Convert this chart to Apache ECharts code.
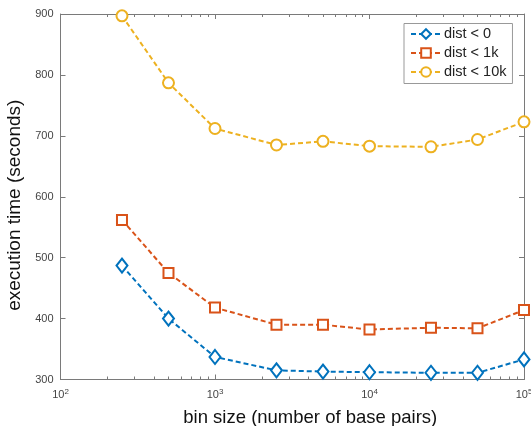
<!DOCTYPE html>
<html>
<head>
<meta charset="utf-8">
<script src="https://cdn.jsdelivr.net/npm/echarts@6/dist/echarts.min.js"></script>
<style>
  html, body { margin: 0; padding: 0; background: #fff; }
  #chart { width: 531px; height: 426px; }
</style>
</head>
<body>
<div id="chart"></div>
<script>
// Bin sizes (base pairs) and execution times (seconds) per distance threshold
const binSizes = [250, 500, 1000, 2500, 5000, 10000, 25000, 50000, 100000];
const dist0   = [487, 400, 337, 315, 313, 312, 311, 311, 333];
const dist1k  = [562, 475, 418, 390, 390, 382, 385, 384, 414];
const dist10k = [897, 787, 712, 685, 691, 683, 682, 694, 723];
const seriesNames = ['dist < 0', 'dist < 1k', 'dist < 10k'];
const yTicks = [300, 400, 500, 600, 700, 800, 900];
const xMinorTicks = [200, 300, 400, 500, 600, 700, 800, 900,
  2000, 3000, 4000, 5000, 6000, 7000, 8000, 9000,
  20000, 30000, 40000, 50000, 60000, 70000, 80000, 90000];

const FONT = "'Liberation Sans', Arial, Helvetica, sans-serif";
const AXIS_COLOR = '#7a7a7a';
const LABEL_COLOR = '#444';
const colors = ['#0072BD', '#D95319', '#EDB120'];
const symbols = ['emptyDiamond', 'emptyRect', 'emptyCircle'];
const symbolSizes = [[11, 14], 10, 11];

const chart = echarts.init(document.getElementById('chart'), null, { renderer: 'canvas' });

function pairs(vals) { return binSizes.map((b, i) => [b, vals[i]]); }

const seriesData = [dist0, dist1k, dist10k];

const xCommon = {
  type: 'log', logBase: 10, min: 100, max: 100000,
  axisLine: { show: true, lineStyle: { color: AXIS_COLOR, width: 1 } },
  axisTick: { show: true, inside: true, length: 5, lineStyle: { color: AXIS_COLOR } },
  splitLine: { show: false }
};
const yCommon = {
  type: 'value', min: yTicks[0], max: yTicks[yTicks.length - 1], interval: 100,
  axisLine: { show: true, lineStyle: { color: AXIS_COLOR, width: 1 } },
  axisTick: { show: true, inside: true, length: 5, lineStyle: { color: AXIS_COLOR } },
  splitLine: { show: false }
};

const option = {
  backgroundColor: '#fff',
  animation: false,
  textStyle: { fontFamily: FONT },
  grid: { left: 60.5, right: 7, top: 14, bottom: 46.5, containLabel: false, outerBoundsMode: 'none' },
  legend: {
    orient: 'vertical',
    left: 404, top: 23.5,
    padding: [3, 6, 4, 6],
    itemWidth: 30, itemHeight: 12, itemGap: 4,
    backgroundColor: '#fff',
    borderColor: '#999', borderWidth: 1,
    textStyle: { fontFamily: FONT, fontSize: 14.5, color: '#222', padding: [0, 0, 0, -2] },
    data: seriesNames
  },
  xAxis: [
    Object.assign({}, xCommon, {
      position: 'bottom',
      name: 'bin size (number of base pairs)',
      nameLocation: 'middle', nameGap: 28.5,
      nameTextStyle: { fontFamily: FONT, fontSize: 18.5, color: '#111', padding: [0, 0, 0, 36] },
      axisLabel: {
        show: true, margin: 8, color: LABEL_COLOR, fontSize: 11,
        formatter: v => '10{sup|' + Math.round(Math.log10(v)) + '}',
        rich: { sup: { fontSize: 8, color: LABEL_COLOR, padding: [0, 0, 7, 0] } }
      }
    }),
    Object.assign({}, xCommon, { position: 'top', axisLabel: { show: false } })
  ],
  yAxis: [
    Object.assign({}, yCommon, {
      position: 'left',
      name: 'execution time (seconds)',
      nameLocation: 'middle', nameGap: 27,
      nameTextStyle: { fontFamily: FONT, fontSize: 19, color: '#111', padding: [0, 17, 0, 0] },
      axisLabel: { show: true, margin: 7, color: LABEL_COLOR, fontSize: 11 }
    }),
    Object.assign({}, yCommon, { position: 'right', axisLabel: { show: false } })
  ],
  series: seriesNames.map((name, i) => ({
    name: name,
    type: 'line',
    xAxisIndex: 0, yAxisIndex: 0,
    data: pairs(seriesData[i]),
    symbol: symbols[i],
    symbolSize: symbolSizes[i],
    showAllSymbol: true,
    lineStyle: { color: colors[i], width: 2, type: [5, 3] },
    itemStyle: { color: colors[i], borderColor: colors[i], borderWidth: 2 },
    emphasis: { disabled: true }
  }))
};

chart.setOption(option);

// Log-axis minor ticks (2..9 within each decade), on bottom and top edges
const rect = chart.getModel().getComponent('grid', 0).coordinateSystem.getRect();
const minorGraphics = [];
xMinorTicks.forEach(v => {
  const px = chart.convertToPixel({ xAxisIndex: 0 }, v);
  const x = Math.round(px) + 0.5;
  minorGraphics.push({
    type: 'line', silent: true,
    shape: { x1: x, y1: rect.y + rect.height, x2: x, y2: rect.y + rect.height - 3 },
    style: { stroke: AXIS_COLOR, lineWidth: 1 }
  });
  minorGraphics.push({
    type: 'line', silent: true,
    shape: { x1: x, y1: rect.y, x2: x, y2: rect.y + 3 },
    style: { stroke: AXIS_COLOR, lineWidth: 1 }
  });
});
chart.setOption({ graphic: minorGraphics });
</script>
</body>
</html>
